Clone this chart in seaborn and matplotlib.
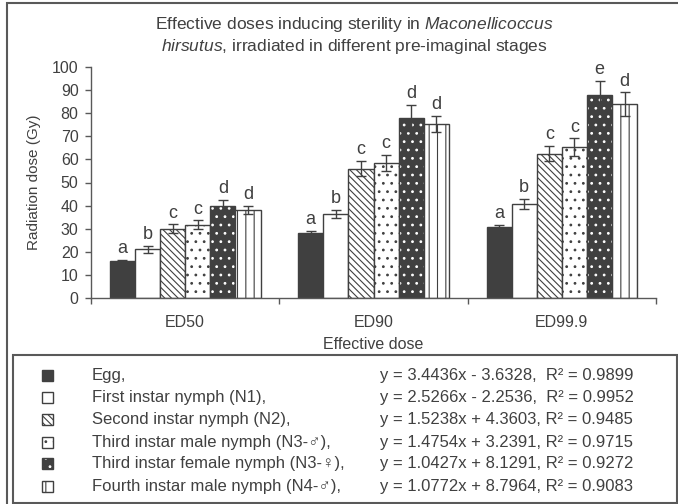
import matplotlib.pyplot as plt
import matplotlib.patches as mpatches
import matplotlib.colors as mcolors
import pandas as pd
import seaborn as sns

# ── data ───────────────────────────────────────────────────────
doses = ["ED50", "ED90", "ED99.9"]
stages = ["Egg", "N1", "N2", "N3m", "N3f", "N4m"]

egg = [16.0, 28.0, 30.6]
n1 = [21.0, 36.5, 40.7]
n2 = [30.0, 56.0, 62.5]
n3m = [31.8, 58.5, 65.3]
n3f = [40.0, 78.0, 87.7]
n4m = [38.2, 75.2, 84.0]

egg_err = [0.5, 1.0, 1.0]
n1_err = [1.4, 1.7, 2.2]
n2_err = [1.9, 3.3, 3.3]
n3m_err = [1.8, 3.5, 3.8]
n3f_err = [2.5, 5.5, 6.3]
n4m_err = [1.8, 3.5, 5.0]

egg_let = ["a", "a", "a"]
n1_let = ["b", "b", "b"]
n2_let = ["c", "c", "c"]
n3m_let = ["c", "c", "c"]
n3f_let = ["d", "d", "e"]
n4m_let = ["d", "d", "d"]

legend_labels = ["Egg,", "First instar nymph (N1),", "Second instar nymph (N2),",
                 "Third instar male nymph (N3-\u2642),",
                 "Third instar female nymph (N3-\u2640),",
                 "Fourth instar male nymph (N4-\u2642),"]
equations = ["y = 3.4436x - 3.6328,  R\u00b2 = 0.9899",
             "y = 2.5266x - 2.2536,  R\u00b2 = 0.9952",
             "y = 1.5238x + 4.3603, R\u00b2 = 0.9485",
             "y = 1.4754x + 3.2391, R\u00b2 = 0.9715",
             "y = 1.0427x + 8.1291, R\u00b2 = 0.9272",
             "y = 1.0772x + 8.7964, R\u00b2 = 0.9083"]

values = [egg, n1, n2, n3m, n3f, n4m]
errors = [egg_err, n1_err, n2_err, n3m_err, n3f_err, n4m_err]
letters = [egg_let, n1_let, n2_let, n3m_let, n3f_let, n4m_let]

df = pd.DataFrame({
    "dose": doses * len(stages),
    "stage": [s for s in stages for _ in doses],
    "value": [v for vals in values for v in vals],
})

# ── style ──────────────────────────────────────────────────────
sns.set_theme(style="ticks")
plt.rcParams["font.family"] = ["Liberation Sans", "DejaVu Sans"]
plt.rcParams["mathtext.fontset"] = "custom"
plt.rcParams["mathtext.rm"] = "Liberation Sans"
plt.rcParams["mathtext.it"] = "Liberation Sans:italic"
plt.rcParams["hatch.linewidth"] = 0.8

DARK = "#404040"
LINE = "#595959"
TEXT = "#404040"

# face, hatch, hatch colour per stage
styles = [
    (DARK, "", DARK),
    ("white", "", DARK),
    ("white", "\\\\\\\\\\", DARK),
    ("white", "..", DARK),
    (DARK, "..", "white"),
    ("white", "||", DARK),
]

fig = plt.figure(figsize=(6.78, 5.04), dpi=100)
ax = fig.add_axes([91 / 678, 1 - 298 / 504, (656 - 91) / 678, (298 - 67) / 504])

sns.barplot(data=df, x="dose", y="value", hue="stage", order=doses,
            hue_order=stages, errorbar=None, width=0.8,
            palette=[DARK] * len(stages), linewidth=1, legend=False, ax=ax)


def style_patch(p, face, hatch, hcol):
    p.set_facecolor(face)
    p.set_edgecolor(DARK)
    p.set_linewidth(1)
    if hatch:
        p.set_hatch(hatch)
        if hasattr(p, "set_hatchcolor"):
            p.set_hatchcolor(hcol)
        else:
            p._hatch_color = mcolors.to_rgba(hcol)


bar_groups = list(ax.containers)
for i, cont in enumerate(bar_groups):
    face, hatch, hcol = styles[i]
    for j, p in enumerate(cont):
        style_patch(p, face, hatch, hcol)
        xc = p.get_x() + p.get_width() / 2
        top = values[i][j]
        ax.errorbar(xc, top, yerr=errors[i][j], color=DARK, lw=1,
                    capsize=3.5, capthick=1, zorder=5)
        ax.text(xc, top + errors[i][j] + 1.2, letters[i][j], ha="center",
                va="bottom", fontsize=13, color=TEXT)

ax.set_ylim(0, 100)
ax.set_xlim(-0.5, 2.5)
ax.set_yticks(range(0, 101, 10))
ax.set_xticks([-0.5, 0.5, 1.5, 2.5], minor=True)
sns.despine(ax=ax)
for s in ["left", "bottom"]:
    ax.spines[s].set_color(LINE)
    ax.spines[s].set_linewidth(1)
ax.tick_params(axis="y", length=4, width=1, color=LINE, labelsize=11.5,
               labelcolor=TEXT, pad=5)
ax.tick_params(axis="x", which="major", length=0, labelsize=11.5,
               labelcolor=TEXT, pad=12)
ax.tick_params(axis="x", which="minor", length=4, width=1, color=LINE)
ax.set_xlabel("Effective dose", fontsize=11.5, color=TEXT, labelpad=5)
ax.set_ylabel("Radiation dose (Gy)", fontsize=11, color=TEXT, labelpad=8)

# title
fig.text(354 / 678, 1 - 25 / 504,
         "Effective doses inducing sterility in $Maconellicoccus$",
         ha="center", va="center", fontsize=12.5, color=TEXT)
fig.text(354 / 678, 1 - 47 / 504,
         "$hirsutus$, irradiated in different pre-imaginal stages",
         ha="center", va="center", fontsize=12.5, color=TEXT)

# outer frame and legend box
fig.add_artist(mpatches.Rectangle((7 / 678, -0.05), 1.2, 1 - 3 / 504 + 0.05,
                                  transform=fig.transFigure, fill=False,
                                  ec=LINE, lw=1.5))
fig.add_artist(mpatches.Rectangle((13 / 678, 1 / 504), (677 - 13) / 678,
                                  (503 - 355) / 504, transform=fig.transFigure,
                                  fill=False, ec=LINE, lw=1.5))

rows_y = [375, 397, 419, 442, 463, 486]
sq = 11
for i, y in enumerate(rows_y):
    face, hatch, hcol = styles[i]
    r = mpatches.Rectangle(((47 - sq / 2) / 678, 1 - (y + sq / 2) / 504),
                           sq / 678, sq / 504, transform=fig.transFigure)
    style_patch(r, face, hatch, hcol)
    fig.add_artist(r)
    fig.text(92 / 678, 1 - (y + 5) / 504, legend_labels[i], ha="left",
             va="baseline", fontsize=12, color=TEXT)
    fig.text(380 / 678, 1 - (y + 5) / 504, equations[i], ha="left",
             va="baseline", fontsize=12, color=TEXT)

plt.savefig("out.png", dpi=100)
